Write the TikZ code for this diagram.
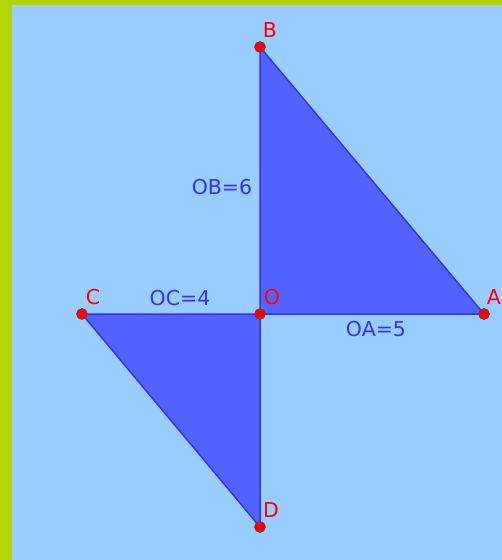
\documentclass[tikz,border=0pt]{standalone}
\usepackage{fontspec}
\setmainfont{DejaVu Sans}
\definecolor{bgblue}{HTML}{99CCFF}
\definecolor{frame}{HTML}{B3D400}
\definecolor{edge}{HTML}{3333FF}
\definecolor{fillc}{HTML}{5263FF}
\definecolor{ptred}{HTML}{FF0000}
\begin{document}
\begin{tikzpicture}[x=1pt,y=-1pt,
  pt/.style={circle,fill=ptred,draw=black!70,line width=0.6pt,inner sep=0pt,minimum size=11pt},
  plab/.style={text=ptred,font=\fontsize{20.5}{20.5}\selectfont,inner sep=0pt},
  seglab/.style={text=edge,font=\fontsize{20.5}{20.5}\selectfont,inner sep=0pt},
  tri/.style={fill=fillc,draw=edge,line width=1.5pt,line join=round}]
\useasboundingbox (0,0) rectangle (502,560);
\fill[frame] (0,0) rectangle (502,560);
\fill[bgblue] (12,5) rectangle (502,560);
\coordinate (O) at (260,314);
\coordinate (A) at (484,314);
\coordinate (B) at (260,47);
\coordinate (C) at (82,314);
\coordinate (D) at (260,527);
\draw[tri] (O) -- (A) -- (B) -- cycle;
\draw[tri] (O) -- (C) -- (D) -- cycle;
\node[pt] (pO) at (O) {};
\node[pt] (pA) at (A) {};
\node[pt] (pB) at (B) {};
\node[pt] (pC) at (C) {};
\node[pt] (pD) at (D) {};
\node[plab] (lB) at (270,30) {B};
\node[plab] (lC) at (93,297) {C};
\node[plab] (lO) at (272,297) {O};
\node[plab] (lA) at (494,297) {A};
\node[plab] (lD) at (271,510) {D};
\node[seglab] (lOB) at (222,187) {OB=6};
\node[seglab] (lOC) at (180,298) {OC=4};
\node[seglab] (lOA) at (376,329) {OA=5};
\end{tikzpicture}
\end{document}
